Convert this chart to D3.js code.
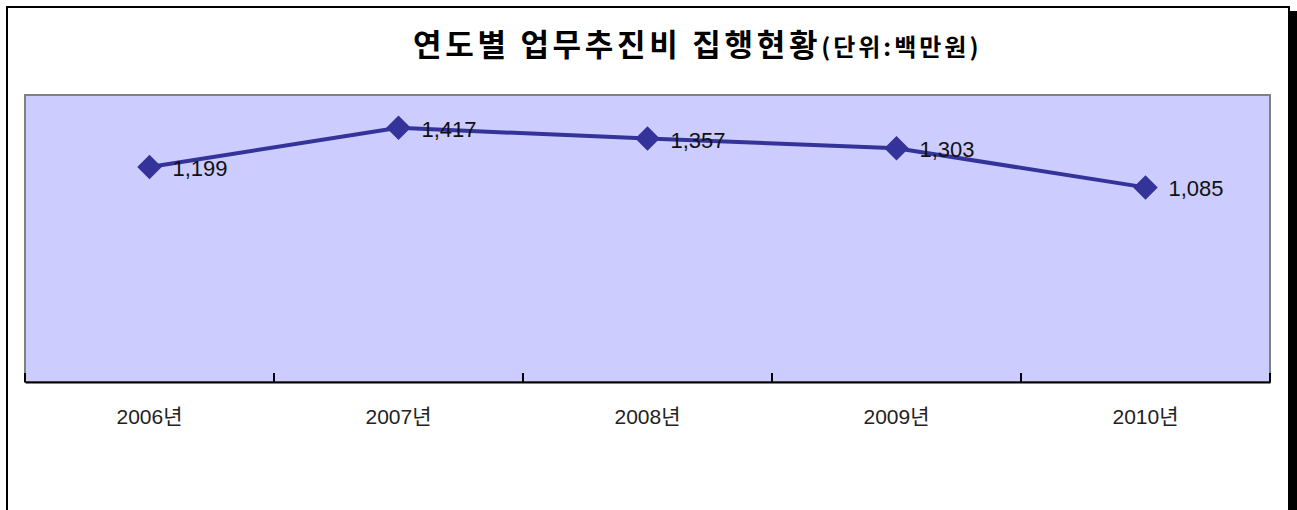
<!DOCTYPE html>
<html><head><meta charset="utf-8">
<script src="https://cdn.jsdelivr.net/npm/d3@7/dist/d3.min.js"></script>
<style>
html,body{margin:0;padding:0;background:#fff;}
svg{display:block;}
</style></head>
<body>
<svg id="chart" width="1297" height="510"></svg>
<script>
const categories = ["2006년", "2007년", "2008년", "2009년", "2010년"];
const values = [1199, 1417, 1357, 1303, 1085];
const valueLabels = ["1,199", "1,417", "1,357", "1,303", "1,085"];
const yDomain = [0, 1600];
const titleMain = "연도별 업무추진비 집행현황";
const titleUnit = "(단위:백만원)";

const svg = d3.select("#chart");
const plot = {left: 25, right: 1270, top: 95, bottom: 382};

// shadow + outer frame
svg.append("rect").attr("x", 12).attr("y", 11).attr("width", 1300).attr("height", 520).attr("fill", "#000");
svg.append("rect").attr("x", 7).attr("y", 7).attr("width", 1282).attr("height", 510)
  .attr("fill", "#fff").attr("stroke", "#000").attr("stroke-width", 2);

// title
const title = svg.append("text").attr("x", 413).attr("y", 56).attr("text-anchor", "start")
  .style("font-family", "'Noto Sans CJK KR', sans-serif").style("font-weight", "bold").attr("fill", "#000");
title.append("tspan").style("font-size", "31px").style("letter-spacing", "3.7px").text(titleMain);
title.append("tspan").style("font-size", "24px").style("letter-spacing", "3px").text(titleUnit);

const x = d3.scaleBand().domain(categories).range([plot.left, plot.right]);
const y = d3.scaleLinear().domain(yDomain).range([plot.bottom, plot.top]);

// plot area
svg.append("rect").attr("x", plot.left).attr("y", plot.top)
  .attr("width", plot.right - plot.left).attr("height", plot.bottom - plot.top)
  .attr("fill", "#CCCCFF").attr("stroke", "#808080").attr("stroke-width", 2);

// x axis
const ax = svg.append("g").attr("transform", `translate(0,${plot.bottom})`)
  .call(d3.axisBottom(x).tickSize(0).tickFormat(""));
ax.select(".domain").attr("stroke", "#000").attr("stroke-width", 2);
ax.selectAll(".tick").remove();
const bounds = categories.map(c => x(c)).concat([plot.right]);
ax.selectAll("line.bt").data(bounds).enter().append("line").attr("class", "bt")
  .attr("x1", d => d).attr("x2", d => d).attr("y1", 0).attr("y2", -9)
  .attr("stroke", "#000").attr("stroke-width", 2);

svg.append("g").selectAll("text").data(categories).enter().append("text")
  .attr("x", d => x(d) + x.bandwidth() / 2).attr("y", 424)
  .attr("text-anchor", "middle")
  .style("font-family", "'Liberation Sans', 'Noto Sans CJK KR', sans-serif")
  .style("font-size", "21px").attr("fill", "#222")
  .text(d => d);

const cx = (d, i) => x(categories[i]) + x.bandwidth() / 2;
const line = d3.line().x((d, i) => cx(d, i)).y(d => y(d));
svg.append("path").datum(values).attr("d", line).attr("fill", "none")
  .attr("stroke", "#333399").attr("stroke-width", 4);

const sym = d3.symbol().type(d3.symbolSquare).size(300);
svg.append("g").selectAll("path").data(values).enter().append("path")
  .attr("d", sym).attr("transform", (d, i) => `translate(${cx(d, i)},${y(d)}) rotate(45)`)
  .attr("fill", "#333399");

svg.append("g").selectAll("text").data(values).enter().append("text")
  .attr("x", (d, i) => cx(d, i) + 23).attr("y", d => y(d) + 9)
  .style("font-family", "'Liberation Sans', sans-serif")
  .style("font-size", "22px").attr("fill", "#111")
  .text((d, i) => valueLabels[i]);
</script>
</body></html>
